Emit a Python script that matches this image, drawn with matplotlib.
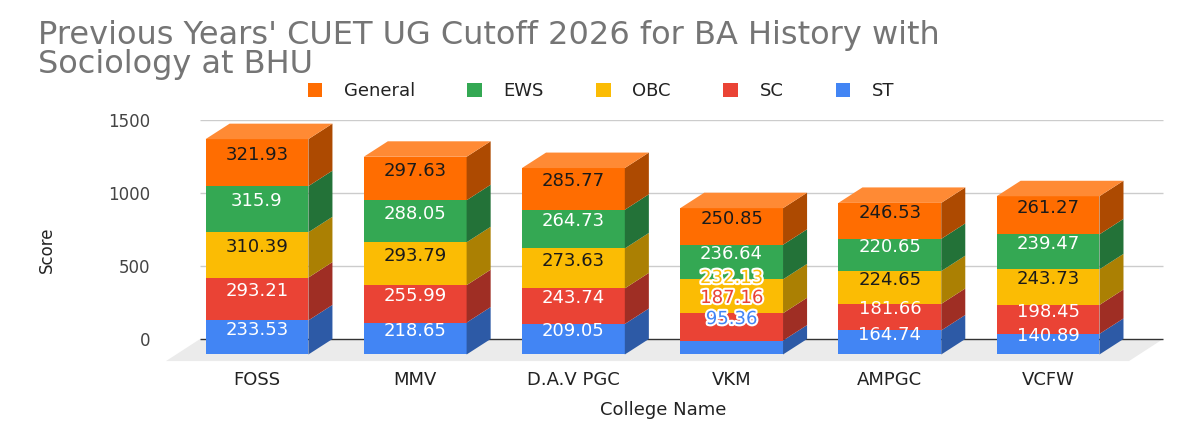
import matplotlib.pyplot as plt
import matplotlib.colors as mcolors
import matplotlib.patheffects as pe
from matplotlib.patches import Polygon, Patch

plt.rcParams['font.family'] = ['DejaVu Sans']

# data
colleges = ["FOSS", "MMV", "D.A.V PGC", "VKM", "AMPGC", "VCFW"]
st = [233.53, 218.65, 209.05, 95.36, 164.74, 140.89]
sc = [293.21, 255.99, 243.74, 187.16, 181.66, 198.45]
obc = [310.39, 293.79, 273.63, 232.13, 224.65, 243.73]
ews = [315.9, 288.05, 264.73, 236.64, 220.65, 239.47]
general = [321.93, 297.63, 285.77, 250.85, 246.53, 261.27]

series_names = ["ST", "SC", "OBC", "EWS", "General"]   # bottom -> top
series_vals = [st, sc, obc, ews, general]
series_cols = ["#4285F4", "#EA4335", "#FBBC04", "#34A853", "#FF6D01"]
label_cols = ["white", "white", "#1a1a1a", "white", "#1a1a1a"]

# labels pushed up where segments are too thin (college idx, series idx) -> score offset
nudge = {(3, 0): 142, (3, 1): 145, (3, 2): 72}

# 3d look
W = 0.65      # front face width (category units)
DX = 0.152    # depth in x
DY = 106      # depth in score units


def shade(c, f):
    r, g, b = mcolors.to_rgb(c)
    if f < 1:
        return (r * f, g * f, b * f)
    f = f - 1
    return (r + (1 - r) * f, g + (1 - g) * f, b + (1 - b) * f)


fig = plt.figure(figsize=(12, 4.4), dpi=100)
ax = fig.add_axes([160 / 1200, 75 / 440, 1010 / 1200, 245 / 440])
ax.set_xlim(-0.613, 5.771)
ax.set_ylim(-178, 1500)
for s in ax.spines.values():
    s.set_visible(False)

gx0, gx1 = -0.36, 5.727
ax.hlines([500, 1000, 1500], gx0, gx1, color="#cccccc", lw=1, zorder=0)
ax.add_patch(Polygon([(gx0, 0), (gx1, 0), (gx1 - 0.215, -151), (gx0 - 0.215, -151)],
                     closed=True, fc="#ebebeb", ec="none", zorder=0.5))
ax.hlines(0, gx0, gx1, color="#333333", lw=1, zorder=0.8)

for i in range(len(colleges)):
    base = 0
    xl, xr = i - W / 2, i + W / 2
    for k, vals in enumerate(series_vals):
        v = vals[i]
        c = series_cols[k]
        # front
        ax.add_patch(Polygon([(xl, base - DY), (xr, base - DY), (xr, base + v - DY), (xl, base + v - DY)],
                             closed=True, fc=c, ec="none", zorder=2, clip_on=False))
        # side
        ax.add_patch(Polygon([(xr, base - DY), (xr + DX, base), (xr + DX, base + v), (xr, base + v - DY)],
                             closed=True, fc=shade(c, 0.68), ec="none", zorder=2, clip_on=False))
        ly = base + v / 2 - DY / 2
        if (i, k) in nudge:
            ax.text(i, ly + nudge[(i, k)], f"{v:g}", ha="center", va="center", fontsize=13,
                    color=c, zorder=4,
                    path_effects=[pe.withStroke(linewidth=3, foreground="white")])
        else:
            ax.text(i, ly, f"{v:g}", ha="center", va="center", fontsize=13,
                    color=label_cols[k], zorder=4)
        base += v
    # top face
    top_c = shade(series_cols[-1], 1.2)
    ax.add_patch(Polygon([(xl, base - DY), (xr, base - DY), (xr + DX, base), (xl + DX, base)],
                         closed=True, fc=top_c, ec="none", zorder=2, clip_on=False))

ax.set_yticks([0, 500, 1000, 1500])
ax.set_yticklabels(["0", "500", "1000", "1500"])
ax.set_xticks(range(len(colleges)))
ax.set_xticklabels(colleges)
ax.tick_params(axis="y", length=0, pad=7, labelsize=12, labelcolor="#444444")
ax.tick_params(axis="x", length=0, pad=4, labelsize=13, labelcolor="#222222")

fig.text(47 / 1200, 1 - 250 / 440, "Score", rotation=90, ha="center", va="center",
         fontsize=12, color="#222222")
fig.text(663 / 1200, 1 - 410 / 440, "College Name", ha="center", va="center",
         fontsize=13, color="#222222")

fig.text(38 / 1200, 1 - 20 / 440,
         "Previous Years' CUET UG Cutoff 2026 for BA History with\nSociology at BHU",
         ha="left", va="top", fontsize=23, color="#757575", linespacing=0.9)

handles = [Patch(fc=series_cols[k], ec="none", label=series_names[k]) for k in [4, 3, 2, 1, 0]]
fig.legend(handles=handles, loc="center", bbox_to_anchor=(601 / 1200, 1 - 91 / 440), ncol=5,
           frameon=False, fontsize=13, handlelength=0.8, handleheight=0.8,
           handletextpad=1.2, columnspacing=2.9, labelcolor="#222222")

fig.savefig("out.png", dpi=100)
